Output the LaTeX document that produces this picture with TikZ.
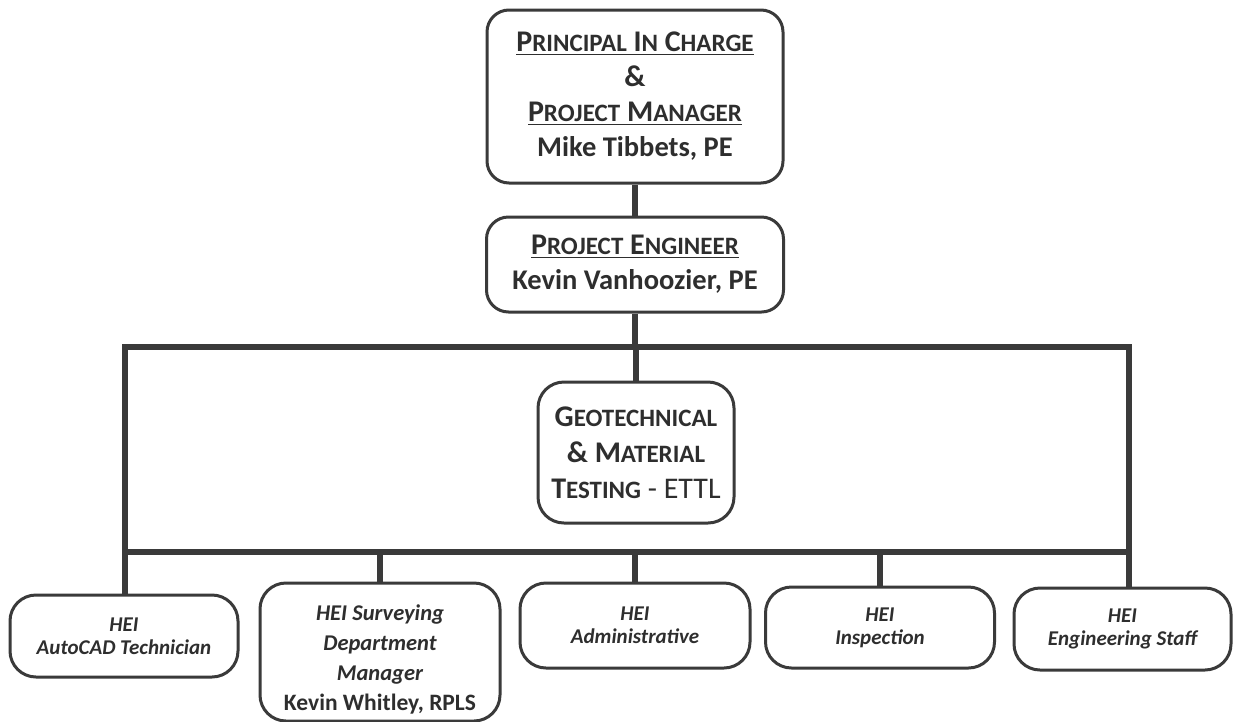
\documentclass[tikz,border=0pt]{standalone}
\usepackage{fontspec}
\setmainfont{Carlito}
\definecolor{ink}{HTML}{3A3A3A}
\definecolor{txt}{HTML}{2E2E2E}
\newcommand\myul[1]{\setbox0\hbox{#1}\rlap{\color{txt}\rule[-3.5pt]{\wd0}{1.6pt}}\box0}
\newcommand\SCa[2]{#1{\fontsize{25}{35}\selectfont #2}}
\tikzset{
  box/.style={draw=ink, line width=3pt, rounded corners=22pt, align=center, inner sep=0pt, text=txt},
  conn/.style={draw=ink, line width=6pt},
  topfont/.style={font=\bfseries\fontsize{30}{35}\selectfont},
  geofont/.style={font=\bfseries\fontsize{30}{36}\selectfont},
  heifont/.style={font=\bfseries\itshape\fontsize{21}{23}\selectfont},
}
\begin{document}
\begin{tikzpicture}[x=1pt,y=-1pt]
\useasboundingbox (0,0) rectangle (1234,721);
\fill[white] (0,0) rectangle (1234,721);

\node[box, topfont, minimum width=296pt, minimum height=173pt] (pic) at (635,96.5)
  {\myul{\SCa{P}{RINCIPAL} \SCa{I}{N} \SCa{C}{HARGE}}\\ \&\\ \myul{\SCa{P}{ROJECT} \SCa{M}{ANAGER}}\\ {\fontsize{28.5}{35}\selectfont Mike Tibbets, PE}};

\node[box, topfont, minimum width=297pt, minimum height=95pt] (pe) at (635,264.5)
  {\myul{\SCa{P}{ROJECT} \SCa{E}{NGINEER}}\\ {\fontsize{28.5}{35}\selectfont Kevin Vanhoozier, PE}};

\coordinate (tl) at (125,347);
\coordinate (br) at (1129,552);
\coordinate (tr) at (1129,347);
\coordinate (bl) at (125,552);

\node[box, geofont, minimum width=196pt, minimum height=141pt, rounded corners=26pt] (geo) at (636,452.5)
  {\SCa{G}{EOTECHNICAL}\\ \SCa{\&}{} \SCa{M}{ATERIAL}\\ \SCa{T}{ESTING} {\mdseries - ETTL}};

\node[box, heifont, minimum width=228pt, minimum height=82pt, rounded corners=26pt] (b1) at (124,636)
  {HEI\\ AutoCAD Technician};
\node[box, font=\bfseries\itshape\fontsize{22.5}{30}\selectfont, minimum width=240pt, minimum height=138pt, rounded corners=26pt] (b2) at (380,652)
  {\rule{0pt}{30pt}HEI Surveying\\ Department\\ Manager\\ \upshape\fontsize{23.5}{30}\selectfont Kevin Whitley, RPLS};
\node[box, heifont, minimum width=230pt, minimum height=85pt, rounded corners=26pt] (b3) at (635,625.5)
  {HEI\\ Administrative};
\node[box, heifont, minimum width=229pt, minimum height=81pt, rounded corners=26pt] (b4) at (880,627.5)
  {HEI\\ Inspection};
\node[box, heifont, minimum width=217pt, minimum height=82pt, rounded corners=26pt] (b5) at (1122.5,629)
  {HEI\\ Engineering Staff};

\draw[conn] (pic.south) -- (pe.north);
\draw[conn] (pe.south) -- (pe.south |- tl);
\draw[conn, line join=miter] (tl) rectangle (br);
\draw[conn] (geo.north |- tl) -- (geo.north);
\draw[conn] (bl) -- (bl |- b1.north);
\draw[conn] (b2.north |- bl) -- (b2.north);
\draw[conn] (b3.north |- bl) -- (b3.north);
\draw[conn] (b4.north |- bl) -- (b4.north);
\draw[conn] (br) -- (br |- b5.north);
\end{tikzpicture}
\end{document}
